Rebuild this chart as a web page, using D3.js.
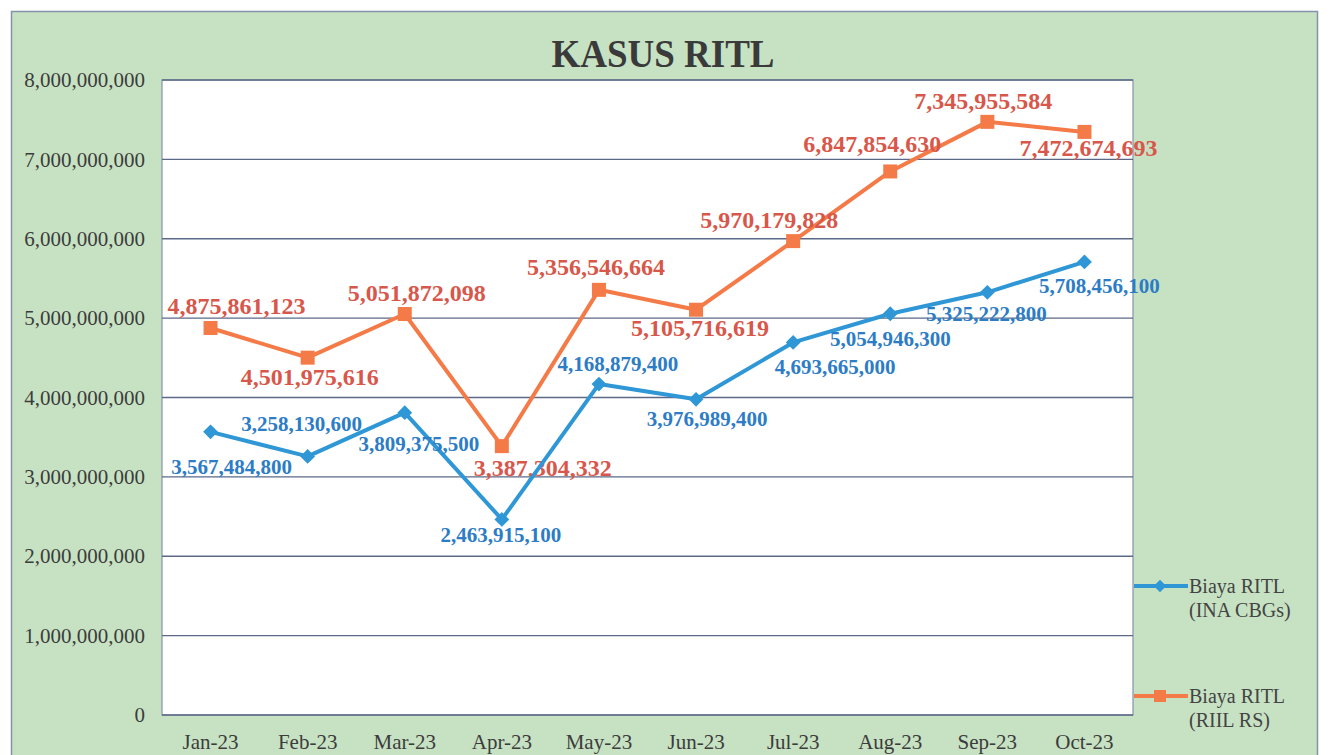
<!DOCTYPE html>
<html><head><meta charset="utf-8">
<script src="https://cdn.jsdelivr.net/npm/d3@7"></script>
<style>
body{margin:0;background:#fff;}
svg{display:block;font-family:"Liberation Serif","Times New Roman",serif;}
</style>
</head><body>
<svg id="c" width="1330" height="755"></svg>
<script>
// ---- data ----
const months = ["Jan-23","Feb-23","Mar-23","Apr-23","May-23","Jun-23","Jul-23","Aug-23","Sep-23","Oct-23"];
const inaValues = [3567484800,3258130600,3809375500,2463915100,4168879400,3976989400,4693665000,5054946300,5325222800,5708456100];
const rsValues  = [4875861123,4501975616,5051872098,3387304332,5356546664,5105716619,5970179828,6847854630,7472674693,7345955584];
// data labels exactly as printed on the chart
const inaLabels = ["3,567,484,800","3,258,130,600","3,809,375,500","2,463,915,100","4,168,879,400","3,976,989,400","4,693,665,000","5,054,946,300","5,325,222,800","5,708,456,100"];
const rsLabels  = ["4,875,861,123","4,501,975,616","5,051,872,098","3,387,304,332","5,356,546,664","5,105,716,619","5,970,179,828","6,847,854,630","7,345,955,584","7,472,674,693"];
const yTicks = [0,1e9,2e9,3e9,4e9,5e9,6e9,7e9,8e9];
const seriesNames = [["Biaya RITL","(INA CBGs)"],["Biaya RITL","(RIIL RS)"]];
const title = "KASUS RITL";

// ---- layout (label offsets relative to each point) ----
const inaOff = [[21,42],[-6,-25],[14,38],[-1,23],[19,-13],[11,27],[42,32],[0,32],[-1,29],[15,31]];
const rsOff  = [[26,-14],[2,27],[12,-13],[41,30],[-3,-15],[4,26],[-24,-13],[-18,-19],[-4,-13],[4,24]];

const W=1330,H=755;
const plot = {l:162,r:1133,t:80,b:715};
const svg = d3.select("#c");
const C = {bg:"#c7e2c3", border:"#8593aa", grid:"#5b6987", axisText:"#3c3c3c",
  blue:"#2f97d6", blueText:"#2c7cc6", orange:"#f47b47", orangeText:"#d8574b"};

svg.append("rect").attr("x",0).attr("y",0).attr("width",W).attr("height",H).attr("fill","#fff");
svg.append("rect").attr("x",11.5).attr("y",11.5).attr("width",1306).attr("height",760)
  .attr("fill",C.bg).attr("stroke",C.border).attr("stroke-width",1.5);

const x = d3.scaleBand().domain(months).range([plot.l,plot.r]);
const y = d3.scaleLinear().domain([0,8e9]).range([plot.b,plot.t]);
const cx = d => x(d)+x.bandwidth()/2;

svg.append("rect").attr("x",plot.l).attr("y",plot.t).attr("width",plot.r-plot.l).attr("height",plot.b-plot.t)
  .attr("fill","#fff").attr("stroke",C.border).attr("stroke-width",1.2);

// gridlines
svg.append("g").selectAll("line").data(yTicks).join("line")
  .attr("x1",plot.l).attr("x2",plot.r).attr("y1",d=>y(d)).attr("y2",d=>y(d))
  .attr("stroke",C.grid).attr("stroke-width",1.4);

// title
svg.append("text").attr("x",663).attr("y",67).attr("text-anchor","middle")
  .attr("font-size",40).attr("font-weight","bold").attr("fill","#3a3a3a")
  .attr("textLength",223).attr("lengthAdjust","spacingAndGlyphs").text(title);

// y axis
const ya = svg.append("g").attr("transform",`translate(${plot.l},0)`)
  .call(d3.axisLeft(y).tickValues(yTicks).tickFormat(d3.format(",")).tickSize(0).tickPadding(17));
ya.select(".domain").remove();
ya.selectAll("text").attr("font-size",21).attr("fill",C.axisText).attr("font-family","Liberation Serif");

// x axis
const xa = svg.append("g").attr("transform",`translate(0,${plot.b})`)
  .call(d3.axisBottom(x).tickSize(0).tickPadding(19));
xa.select(".domain").remove();
xa.selectAll("text").attr("font-size",21).attr("fill",C.axisText).attr("font-family","Liberation Serif");

const line = d3.line().x((d,i)=>cx(months[i])).y(d=>y(d));

function drawSeries(values, labels, offs, color, textColor, marker, fs){
  const g = svg.append("g");
  g.append("path").datum(values).attr("d",line).attr("fill","none")
    .attr("stroke",color).attr("stroke-width",4).attr("stroke-linejoin","round");
  if(marker==="square"){
    g.selectAll("rect.m").data(values).join("rect").attr("class","m")
      .attr("x",(d,i)=>cx(months[i])-7).attr("y",d=>y(d)-7).attr("width",14).attr("height",14).attr("fill",color);
  } else {
    g.selectAll("path.m").data(values).join("path").attr("class","m")
      .attr("d",d3.symbol(d3.symbolDiamond2,140)).attr("transform",(d,i)=>`translate(${cx(months[i])},${y(d)})`)
      .attr("fill",color);
  }
  g.selectAll("text").data(values).join("text")
    .attr("x",(d,i)=>cx(months[i])+offs[i][0]).attr("y",(d,i)=>y(d)+offs[i][1])
    .attr("text-anchor","middle").attr("font-size",fs).attr("font-weight","bold").attr("fill",textColor)
    .text((d,i)=>labels[i]);
}
drawSeries(rsValues, rsLabels, rsOff, C.orange, C.orangeText, "square", 24);
drawSeries(inaValues, inaLabels, inaOff, C.blue, C.blueText, "diamond", 21);

// legend
const leg = [{c:C.blue,m:"diamond",y:586},{c:C.orange,m:"square",y:696}];
leg.forEach((L,i)=>{
  const g = svg.append("g");
  g.append("line").attr("x1",1134).attr("x2",1188).attr("y1",L.y).attr("y2",L.y).attr("stroke",L.c).attr("stroke-width",4);
  if(L.m==="square") g.append("rect").attr("x",1154).attr("y",L.y-6).attr("width",12).attr("height",12).attr("fill",L.c);
  else g.append("path").attr("d",d3.symbol(d3.symbolDiamond2,100)).attr("transform",`translate(1160,${L.y})`).attr("fill",L.c);
  g.append("text").attr("x",1189).attr("y",L.y+7).attr("font-size",20).attr("fill","#444").text(seriesNames[i][0]);
  g.append("text").attr("x",1189).attr("y",L.y+31).attr("font-size",20).attr("fill","#444").text(seriesNames[i][1]);
});
</script>
</body></html>
